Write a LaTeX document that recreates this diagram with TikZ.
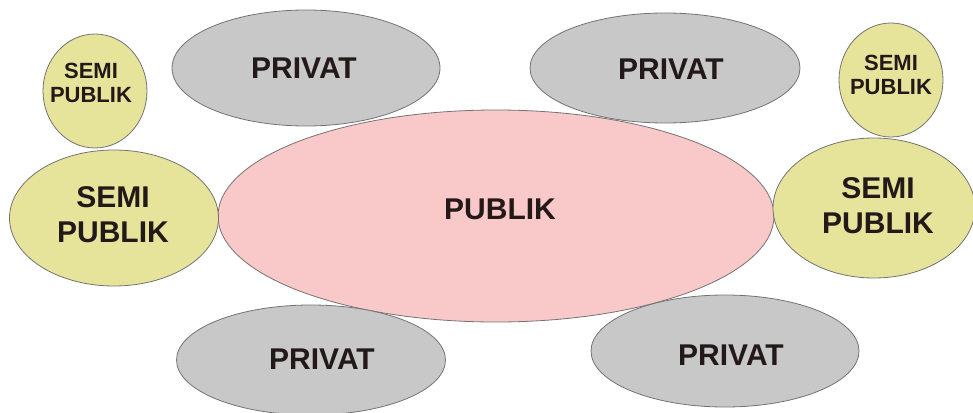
\documentclass[tikz,border=0pt]{standalone}
\usepackage{fontspec}
\setmainfont{Liberation Sans}
\usetikzlibrary{shapes.geometric}
\definecolor{semic}{RGB}{230,227,155}
\definecolor{pubc}{RGB}{248,201,200}
\definecolor{privc}{RGB}{200,200,200}
\definecolor{edgec}{RGB}{115,115,115}
\definecolor{txtc}{RGB}{35,25,25}
\tikzset{
  blob/.style={ellipse, draw=edgec, line width=0.8pt, inner sep=0pt},
  privbox/.style={blob, fill=privc},
  semibox/.style={blob, fill=semic},
  pubbox/.style={blob, fill=pubc},
  lbl/.style={text=txtc, align=center, inner sep=0pt},
  bigtxt/.style={lbl, font=\fontsize{30}{35}\selectfont\bfseries},
  smalltxt/.style={lbl, font=\fontsize{22}{23.5}\selectfont\bfseries}
}
\begin{document}
\begin{tikzpicture}[x=1pt,y=-1pt]
\useasboundingbox (0,0) rectangle (973,412);
\node[privbox, minimum width=268, minimum height=116] (p1) at (306,68) {};
\node[privbox, minimum width=270, minimum height=110] (p2) at (665,68) {};
\node[pubbox, minimum width=556, minimum height=212] (pub) at (496,216) {};
\node[privbox, minimum width=269, minimum height=110] (p3) at (311,360) {};
\node[privbox, minimum width=268, minimum height=112] (p4) at (725,351) {};
\node[semibox, minimum width=209, minimum height=136] (s2) at (114,218) {};
\node[semibox, minimum width=104, minimum height=114] (s1) at (95,91) {};
\node[semibox, minimum width=202, minimum height=140] (s4) at (874,208) {};
\node[semibox, minimum width=104, minimum height=114] (s3) at (891,80) {};
\node[bigtxt] (t1) at (304,68) {PRIVAT};
\node[bigtxt] (t2) at (671,69) {PRIVAT};
\node[bigtxt] (t3) at (500,209) {PUBLIK};
\node[bigtxt] (t4) at (322,359) {PRIVAT};
\node[bigtxt] (t5) at (731,355) {PRIVAT};
\node[smalltxt] (t6) at (91,83) {SEMI\\PUBLIK};
\node[bigtxt] (t7) at (113,215) {SEMI\\PUBLIK};
\node[smalltxt] (t8) at (891,75) {SEMI\\PUBLIK};
\node[bigtxt] (t9) at (878,206) {SEMI\\PUBLIK};
\end{tikzpicture}
\end{document}
